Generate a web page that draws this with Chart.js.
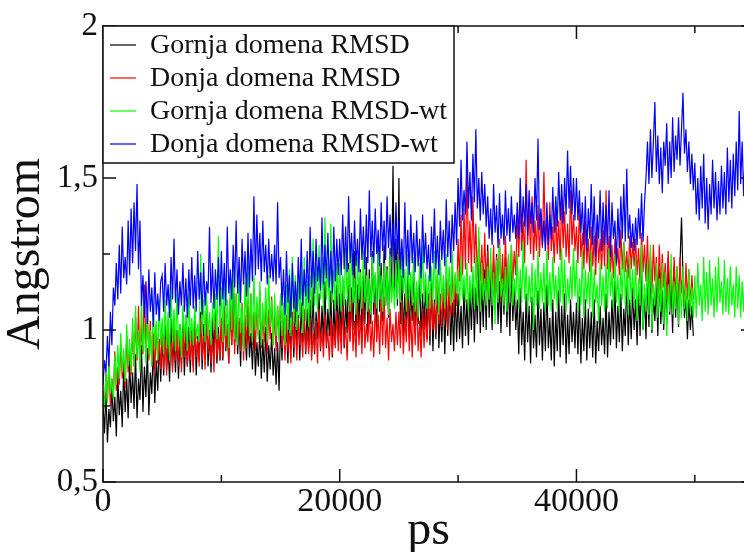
<!DOCTYPE html>
<html>
<head>
<meta charset="utf-8">
<script src="https://cdn.jsdelivr.net/npm/chart.js@4.4.1/dist/chart.umd.min.js"></script>
<style>
  html, body { margin: 0; padding: 0; overflow: hidden; background: #fff; }
  canvas { display: block; }
</style>
</head>
<body>
<canvas id="rmsdChart" width="800" height="552" style="width:800px;height:552px"></canvas>
<script>
// sampling grid of the trajectories (ps between stored frames)
const STEP_PS = 125;

const seriesNames = ['Gornja domena RMSD', 'Donja domena RMSD', 'Gornja domena RMSD-wt', 'Donja domena RMSD-wt'];
const seriesColors = ['#000000', '#ff0000', '#00ff00', '#0000ff'];

const xMajorTicks = [0, 20000, 40000];
const xMinorTicks = [10000, 30000, 50000];
const yMajorTicks = [0.5, 1, 1.5, 2];
const yMinorTicks = [0.75, 1.25, 1.75];

// RMSD values in Angstrom, one every STEP_PS ps (one row = 2500 ps)
const gornja = [
  0.76, 0.66, 0.80, 0.63, 0.74, 0.68, 0.82, 0.70, 0.78, 0.65, 0.85, 0.72, 0.80, 0.68, 0.88, 0.73, 0.84, 0.71, 0.90, 0.76,
  0.86, 0.74, 0.92, 0.71, 0.84, 0.77, 0.95, 0.73, 0.88, 0.78, 0.94, 0.72, 0.86, 0.79, 0.96, 0.76, 0.90, 0.80, 0.97, 0.83,
  0.98, 0.85, 1.02, 0.87, 0.95, 0.83, 1.04, 0.88, 0.97, 0.86, 1.00, 0.84, 0.96, 0.89, 1.03, 0.85, 0.99, 0.88, 1.01, 0.86,
  1.00, 0.88, 1.05, 0.85, 0.98, 0.90, 1.06, 0.87, 1.02, 0.91, 1.08, 0.88, 0.99, 0.86, 1.04, 0.92, 1.07, 0.89, 1.01, 0.90,
  1.04, 0.90, 1.08, 0.93, 1.02, 0.89, 1.10, 0.95, 1.22, 0.96, 1.06, 0.92, 1.03, 0.88, 1.07, 0.94, 1.00, 0.90, 1.05, 0.91,
  0.99, 0.87, 1.02, 0.85, 0.96, 0.88, 1.00, 0.84, 0.97, 0.86, 1.01, 0.83, 0.95, 0.87, 0.99, 0.85, 0.94, 0.82, 0.96, 0.80,
  1.03, 0.90, 1.08, 0.93, 1.01, 0.89, 1.10, 0.94, 1.04, 0.91, 1.12, 0.95, 1.05, 0.90, 1.09, 0.96, 1.03, 0.92, 1.07, 0.94,
  1.10, 0.95, 1.14, 0.92, 1.06, 0.97, 1.12, 0.93, 1.08, 0.96, 1.16, 0.94, 1.07, 0.98, 1.13, 0.91, 1.10, 0.95, 1.15, 0.97,
  1.12, 0.96, 1.17, 0.94, 1.10, 0.99, 1.22, 0.97, 1.14, 1.00, 1.26, 0.98, 1.15, 1.01, 1.20, 0.96, 1.18, 1.02, 1.24, 0.99,
  1.20, 1.02, 1.26, 1.05, 1.18, 1.00, 1.30, 1.06, 1.22, 1.03, 1.28, 1.08, 1.21, 1.04, 1.27, 1.10, 1.54, 1.12, 1.30, 1.08,
  1.50, 1.02, 1.18, 0.98, 1.12, 1.01, 1.20, 0.97, 1.15, 1.03, 1.23, 0.99, 1.14, 1.02, 1.19, 0.98, 1.12, 1.00, 1.17, 0.97,
  1.12, 0.95, 1.16, 0.93, 1.10, 0.97, 1.18, 0.94, 1.08, 0.96, 1.14, 0.92, 1.11, 0.98, 1.15, 0.95, 1.09, 0.93, 1.13, 0.96,
  1.12, 0.97, 1.08, 0.94, 1.15, 0.98, 1.10, 0.95, 1.13, 1.00, 1.18, 0.96, 1.14, 1.02, 1.22, 0.99, 1.16, 1.01, 1.20, 1.00,
  1.28, 1.04, 1.18, 1.00, 1.22, 1.06, 1.25, 1.02, 1.16, 0.99, 1.21, 1.05, 1.24, 1.01, 1.18, 0.98, 1.22, 1.03, 1.14, 1.00,
  1.10, 0.92, 1.14, 0.95, 1.06, 0.90, 1.12, 0.96, 1.08, 0.89, 1.11, 0.94, 1.05, 0.91, 1.13, 0.95, 1.07, 0.90, 1.09, 0.93,
  1.15, 0.94, 1.04, 0.90, 1.10, 0.88, 1.06, 0.93, 1.13, 0.91, 1.08, 0.95, 1.12, 0.89, 1.05, 0.92, 1.10, 0.96, 1.06, 0.94,
  1.09, 0.92, 1.11, 0.89, 1.04, 0.93, 1.10, 0.90, 1.07, 0.94, 1.06, 0.91, 1.10, 0.89, 1.03, 0.93, 1.08, 0.95, 1.04, 0.92,
  1.12, 0.91, 1.06, 0.95, 1.10, 0.97, 1.16, 0.94, 1.08, 0.96, 1.12, 0.93, 1.07, 0.98, 1.18, 0.95, 1.10, 0.97, 1.14, 1.00,
  1.10, 0.95, 1.14, 0.98, 1.20, 1.00, 1.12, 0.97, 1.18, 1.01, 1.22, 0.99, 1.11, 1.03, 1.16, 0.98, 1.20, 1.02, 1.13, 1.00,
  1.17, 1.02, 1.24, 1.05, 1.15, 0.99, 1.21, 1.04, 1.17, 1.01, 1.22, 1.37, 1.18, 1.04, 1.12, 0.97, 1.10, 1.00, 1.08, 0.98
];
const donja = [
  0.80, 0.74, 0.86, 0.77, 0.90, 0.75, 0.84, 0.79, 0.93, 0.80, 0.88, 0.82, 0.95, 0.84, 0.90, 0.81, 0.98, 0.86, 0.94, 0.85,
  1.00, 0.88, 1.04, 0.90, 1.08, 0.87, 1.02, 0.92, 1.15, 0.94, 1.06, 0.90, 1.03, 0.88, 0.99, 0.86, 1.02, 0.89, 0.97, 0.87,
  1.00, 0.87, 0.97, 0.85, 1.03, 0.89, 0.96, 0.86, 1.04, 0.90, 0.98, 0.88, 1.02, 0.86, 0.99, 0.91, 1.05, 0.88, 0.96, 0.90,
  0.99, 0.86, 1.02, 0.91, 0.97, 0.88, 1.04, 0.90, 0.98, 0.87, 1.05, 0.92, 1.00, 0.89, 0.97, 0.86, 1.03, 0.91, 0.99, 0.90,
  1.04, 0.91, 1.08, 0.94, 1.02, 0.89, 1.10, 0.95, 1.06, 0.92, 1.12, 0.97, 1.04, 0.93, 1.09, 0.90, 1.05, 0.94, 1.10, 0.96,
  1.12, 0.95, 1.06, 0.93, 1.09, 0.98, 1.13, 0.94, 1.04, 0.96, 1.10, 0.92, 1.07, 0.97, 1.11, 0.95, 1.05, 0.93, 1.08, 0.97,
  1.10, 0.94, 1.02, 0.90, 1.05, 0.93, 0.99, 0.89, 1.06, 0.94, 1.01, 0.90, 1.04, 0.95, 0.99, 0.91, 1.07, 0.93, 1.00, 0.92,
  1.04, 0.90, 0.99, 0.93, 1.03, 0.89, 1.07, 0.94, 1.00, 0.91, 1.05, 0.95, 0.99, 0.90, 1.04, 0.92, 1.02, 0.94, 1.06, 0.93,
  1.04, 0.92, 1.08, 0.95, 1.01, 0.90, 1.06, 0.96, 1.10, 0.93, 1.03, 0.91, 1.09, 0.95, 1.05, 0.92, 1.11, 0.94, 1.02, 0.96,
  1.07, 0.93, 1.03, 0.91, 1.09, 0.96, 1.05, 0.92, 1.10, 0.95, 1.11, 0.94, 1.04, 0.90, 1.07, 0.96, 1.02, 0.93, 1.06, 0.95,
  1.06, 0.94, 1.10, 0.92, 1.04, 0.96, 1.12, 0.93, 1.05, 0.91, 1.09, 0.95, 1.12, 0.93, 1.03, 0.91, 1.07, 0.94, 1.06, 0.96,
  1.10, 0.98, 1.13, 1.00, 1.09, 0.99, 1.18, 1.02, 1.12, 1.01, 1.15, 1.03, 1.17, 1.00, 1.14, 1.05, 1.21, 1.04, 1.18, 1.08,
  1.30, 1.16, 1.38, 1.18, 1.40, 1.20, 1.56, 1.22, 1.36, 1.19, 1.44, 1.22, 1.35, 1.17, 1.30, 1.16, 1.28, 1.14, 1.32, 1.15,
  1.26, 1.10, 1.22, 1.12, 1.28, 1.08, 1.24, 1.13, 1.30, 1.10, 1.25, 1.12, 1.31, 1.14, 1.24, 1.11, 1.28, 1.16, 1.26, 1.18,
  1.38, 1.24, 1.42, 1.26, 1.36, 1.22, 1.56, 1.28, 1.40, 1.25, 1.44, 1.23, 1.36, 1.26, 1.41, 1.24, 1.38, 1.27, 1.52, 1.28,
  1.38, 1.23, 1.42, 1.26, 1.34, 1.22, 1.40, 1.25, 1.36, 1.23, 1.44, 1.27, 1.39, 1.24, 1.35, 1.22, 1.46, 1.28, 1.38, 1.26,
  1.34, 1.22, 1.40, 1.24, 1.32, 1.20, 1.36, 1.22, 1.30, 1.19, 1.34, 1.21, 1.31, 1.18, 1.35, 1.22, 1.30, 1.20, 1.33, 1.21,
  1.46, 1.20, 1.31, 1.19, 1.28, 1.17, 1.30, 1.21, 1.27, 1.18, 1.33, 1.20, 1.29, 1.19, 1.26, 1.17, 1.31, 1.20, 1.29, 1.21,
  1.30, 1.18, 1.27, 1.15, 1.32, 1.19, 1.28, 1.16, 1.31, 1.14, 1.26, 1.12, 1.28, 1.16, 1.24, 1.10, 1.28, 1.13, 1.25, 1.14,
  1.22, 1.10, 1.26, 1.12, 1.20, 1.08, 1.24, 1.11, 1.21, 1.09, 1.24, 1.12, 1.19, 1.07, 1.22, 1.10, 1.20, 1.08, 1.18, 1.10
];
const gornjaWt = [
  0.80, 0.74, 0.86, 0.76, 0.90, 0.79, 0.84, 0.77, 0.92, 0.82, 0.95, 0.84, 0.99, 0.86, 0.94, 0.83, 1.02, 0.88, 0.97, 0.86,
  1.04, 0.88, 1.08, 0.91, 1.00, 0.86, 1.11, 0.93, 1.02, 0.89, 1.06, 0.92, 1.00, 0.88, 1.09, 0.94, 1.03, 0.90, 1.10, 0.95,
  1.04, 0.92, 1.10, 0.94, 1.06, 0.90, 1.14, 0.96, 1.07, 0.93, 1.12, 0.95, 1.02, 0.91, 1.08, 0.97, 1.05, 0.93, 1.12, 0.96,
  1.04, 0.95, 1.08, 0.97, 1.02, 0.96, 1.25, 0.99, 1.10, 0.96, 1.12, 0.98, 1.06, 0.95, 1.09, 1.00, 1.12, 0.97, 1.31, 1.01,
  1.14, 0.96, 1.20, 0.98, 1.10, 0.94, 1.16, 1.00, 1.22, 0.97, 1.12, 0.95, 1.18, 0.99, 1.08, 0.93, 1.16, 1.01, 1.22, 0.98,
  1.12, 0.96, 1.18, 1.00, 1.11, 0.97, 1.16, 0.95, 1.09, 0.99, 1.14, 0.96, 1.18, 1.01, 1.10, 0.95, 1.12, 0.98, 1.08, 0.96,
  1.12, 0.98, 1.09, 0.95, 1.15, 1.00, 1.20, 0.98, 1.24, 1.02, 1.18, 1.00, 1.15, 1.04, 1.20, 0.99, 1.24, 1.03, 1.16, 1.01,
  1.18, 1.05, 1.30, 1.08, 1.22, 1.06, 1.28, 1.10, 1.24, 1.07, 1.37, 1.10, 1.22, 1.06, 1.35, 1.09, 1.20, 1.07, 1.22, 1.08,
  1.22, 1.06, 1.18, 1.08, 1.27, 1.10, 1.20, 1.06, 1.29, 1.09, 1.17, 1.05, 1.24, 1.10, 1.19, 1.07, 1.26, 1.09, 1.18, 1.06,
  1.17, 1.05, 1.24, 1.09, 1.19, 1.07, 1.26, 1.10, 1.18, 1.06, 1.22, 1.08, 1.20, 1.05, 1.25, 1.09, 1.18, 1.07, 1.23, 1.10,
  1.23, 1.09, 1.27, 1.12, 1.20, 1.06, 1.25, 1.10, 1.19, 1.08, 1.24, 1.06, 1.16, 1.04, 1.22, 1.10, 1.28, 1.09, 1.19, 1.07,
  1.18, 1.07, 1.21, 1.10, 1.26, 1.08, 1.20, 1.05, 1.23, 1.09, 1.18, 1.07, 1.25, 1.11, 1.21, 1.08, 1.26, 1.10, 1.19, 1.12,
  1.20, 1.08, 1.24, 1.10, 1.18, 1.09, 1.22, 1.06, 1.18, 1.09, 1.21, 1.07, 1.24, 1.08, 1.34, 1.06, 1.22, 1.10, 1.17, 1.08,
  1.21, 1.10, 1.27, 1.08, 1.19, 1.02, 1.23, 1.09, 1.28, 1.11, 1.17, 1.08, 1.21, 1.06, 1.25, 1.09, 1.28, 1.08, 1.17, 1.10,
  1.25, 1.07, 1.20, 1.09, 1.29, 1.10, 1.21, 1.06, 1.18, 1.09, 1.22, 1.00, 1.20, 1.08, 1.26, 1.07, 1.19, 1.09, 1.22, 1.06,
  1.26, 1.08, 1.19, 1.06, 1.24, 1.10, 1.18, 1.07, 1.21, 1.09, 1.27, 1.08, 1.23, 1.06, 1.17, 1.09, 1.21, 1.10, 1.27, 1.11,
  1.23, 1.06, 1.17, 1.08, 1.26, 1.04, 1.20, 1.09, 1.19, 1.07, 1.26, 1.04, 1.20, 1.09, 1.15, 1.02, 1.22, 1.08, 1.18, 1.06,
  1.22, 1.07, 1.27, 1.11, 1.19, 1.07, 1.25, 1.09, 1.18, 1.06, 1.21, 1.10, 1.29, 1.08, 1.20, 1.05, 1.24, 1.09, 1.20, 1.07,
  1.24, 1.03, 1.17, 1.08, 1.28, 1.00, 1.15, 1.06, 1.22, 1.05, 1.28, 1.00, 1.15, 1.08, 1.22, 1.04, 1.17, 1.06, 1.22, 1.02,
  1.19, 0.98, 1.15, 1.06, 1.25, 1.05, 1.16, 1.07, 1.21, 1.02, 1.16, 1.04, 1.21, 1.07, 1.14, 1.03, 1.20, 1.06, 1.14, 1.04,
  1.18, 1.04, 1.22, 1.08, 1.15, 1.03, 1.24, 1.06, 1.19, 1.05, 1.23, 1.08, 1.17, 1.04, 1.21, 1.06, 1.24, 1.09, 1.16, 1.05,
  1.23, 1.06, 1.17, 1.05, 1.21, 1.08, 1.15, 1.04, 1.21, 1.07, 1.18, 1.04, 1.16, 1.06, 1.20, 1.08, 1.17, 1.05, 1.20, 1.07
];
const donjaWt = [
  0.82, 0.90, 0.86, 0.98, 0.88, 1.06, 0.95, 1.14, 1.08, 1.22, 1.10, 1.28, 1.12, 1.34, 1.17, 1.24, 1.15, 1.36, 1.18, 1.40,
  1.22, 1.42, 1.26, 1.48, 1.20, 1.36, 1.08, 1.18, 1.04, 1.16, 1.02, 1.20, 1.06, 1.14, 1.01, 1.19, 1.05, 1.12, 1.03, 1.16,
  1.18, 1.06, 1.22, 1.08, 1.15, 1.04, 1.24, 1.10, 1.30, 1.09, 1.20, 1.05, 1.16, 1.08, 1.22, 1.06, 1.17, 1.04, 1.20, 1.08,
  1.24, 1.07, 1.18, 1.06, 1.26, 1.10, 1.19, 1.05, 1.22, 1.08, 1.16, 1.12, 1.34, 1.09, 1.22, 1.07, 1.20, 1.10, 1.24, 1.08,
  1.26, 1.10, 1.22, 1.08, 1.34, 1.12, 1.20, 1.10, 1.28, 1.14, 1.36, 1.12, 1.24, 1.09, 1.30, 1.15, 1.26, 1.11, 1.32, 1.14,
  1.30, 1.16, 1.44, 1.18, 1.38, 1.20, 1.32, 1.16, 1.36, 1.19, 1.28, 1.15, 1.30, 1.17, 1.25, 1.16, 1.28, 1.15, 1.42, 1.17,
  1.24, 1.08, 1.20, 1.05, 1.26, 1.09, 1.18, 1.04, 1.22, 1.07, 1.16, 1.06, 1.24, 1.10, 1.30, 1.08, 1.20, 1.11, 1.26, 1.09,
  1.34, 1.14, 1.26, 1.12, 1.30, 1.16, 1.24, 1.13, 1.37, 1.15, 1.28, 1.17, 1.32, 1.14, 1.26, 1.12, 1.34, 1.16, 1.30, 1.18,
  1.30, 1.18, 1.38, 1.20, 1.34, 1.19, 1.44, 1.22, 1.32, 1.18, 1.36, 1.21, 1.30, 1.19, 1.40, 1.23, 1.34, 1.20, 1.38, 1.22,
  1.46, 1.24, 1.36, 1.22, 1.40, 1.25, 1.33, 1.21, 1.42, 1.26, 1.36, 1.23, 1.44, 1.27, 1.38, 1.24, 1.35, 1.22, 1.42, 1.25,
  1.36, 1.20, 1.30, 1.17, 1.42, 1.21, 1.33, 1.18, 1.38, 1.22, 1.32, 1.19, 1.36, 1.21, 1.30, 1.17, 1.38, 1.22, 1.32, 1.20,
  1.28, 1.16, 1.34, 1.22, 1.40, 1.20, 1.31, 1.18, 1.36, 1.23, 1.33, 1.21, 1.43, 1.24, 1.36, 1.22, 1.38, 1.26, 1.42, 1.28,
  1.50, 1.34, 1.56, 1.36, 1.46, 1.38, 1.62, 1.40, 1.52, 1.36, 1.58, 1.42, 1.66, 1.40, 1.50, 1.36, 1.52, 1.38, 1.48, 1.34,
  1.44, 1.30, 1.40, 1.28, 1.48, 1.32, 1.41, 1.27, 1.45, 1.30, 1.38, 1.28, 1.46, 1.31, 1.40, 1.29, 1.44, 1.32, 1.38, 1.30,
  1.42, 1.30, 1.50, 1.32, 1.44, 1.34, 1.48, 1.31, 1.46, 1.35, 1.42, 1.32, 1.50, 1.36, 1.63, 1.33, 1.40, 1.28, 1.36, 1.26,
  1.42, 1.28, 1.38, 1.30, 1.47, 1.32, 1.44, 1.34, 1.52, 1.36, 1.48, 1.35, 1.50, 1.38, 1.59, 1.40, 1.54, 1.38, 1.50, 1.36,
  1.50, 1.36, 1.46, 1.32, 1.42, 1.28, 1.44, 1.26, 1.40, 1.30, 1.48, 1.28, 1.44, 1.24, 1.38, 1.30, 1.46, 1.26, 1.42, 1.28,
  1.41, 1.28, 1.46, 1.24, 1.42, 1.30, 1.36, 1.22, 1.40, 1.27, 1.44, 1.30, 1.48, 1.29, 1.53, 1.30, 1.38, 1.27, 1.35, 1.26,
  1.37, 1.28, 1.40, 1.30, 1.45, 1.29, 1.42, 1.50, 1.62, 1.48, 1.66, 1.50, 1.62, 1.75, 1.52, 1.64, 1.48, 1.60, 1.45, 1.62,
  1.54, 1.68, 1.48, 1.62, 1.50, 1.70, 1.52, 1.64, 1.56, 1.70, 1.54, 1.66, 1.78, 1.58, 1.66, 1.52, 1.62, 1.48, 1.58, 1.46,
  1.55, 1.38, 1.50, 1.36, 1.54, 1.40, 1.58, 1.35, 1.50, 1.33, 1.48, 1.38, 1.56, 1.40, 1.52, 1.36, 1.49, 1.38, 1.54, 1.40,
  1.52, 1.38, 1.60, 1.42, 1.56, 1.40, 1.58, 1.44, 1.62, 1.46, 1.72, 1.48, 1.62, 1.44, 1.58, 1.40, 1.56, 1.42, 1.60, 1.45
];

const SERIF = '"Liberation Serif", "Times New Roman", serif';
const toPoints = (vals) => vals.map((v, i) => ({ x: i * STEP_PS, y: v }));

// xmgrace style frame: ticks pointing inwards on all four sides, boxed legend
const gracePlugin = {
  id: 'grace',
  afterDatasetsDraw(chart) {
    const { ctx, chartArea: a, scales: { x, y } } = chart;
    ctx.save();
    ctx.strokeStyle = '#111';
    ctx.lineWidth = 1.5;
    ctx.strokeRect(a.left, a.top, a.right - a.left, a.bottom - a.top);
    ctx.beginPath();
    const xt = (v, len) => {
      const px = x.getPixelForValue(v);
      ctx.moveTo(px, a.bottom); ctx.lineTo(px, a.bottom - len);
      ctx.moveTo(px, a.top); ctx.lineTo(px, a.top + len);
    };
    const yt = (v, len) => {
      const py = y.getPixelForValue(v);
      ctx.moveTo(a.left, py); ctx.lineTo(a.left + len, py);
      ctx.moveTo(a.right, py); ctx.lineTo(a.right - len, py);
    };
    xMajorTicks.forEach((v) => xt(v, 13));
    xMinorTicks.forEach((v) => xt(v, 7));
    yMajorTicks.forEach((v) => yt(v, 13));
    yMinorTicks.forEach((v) => yt(v, 7));
    ctx.stroke();

    const bx = a.left, by = a.top, bw = 351, bh = 137;
    ctx.fillStyle = '#fff';
    ctx.fillRect(bx, by, bw, bh);
    ctx.strokeRect(bx, by, bw, bh);
    ctx.font = '28px ' + SERIF;
    ctx.textBaseline = 'alphabetic';
    ctx.textAlign = 'left';
    seriesNames.forEach((name, i) => {
      const rowY = by + 19 + i * 33;
      ctx.strokeStyle = seriesColors[i];
      ctx.lineWidth = 1.2;
      ctx.beginPath();
      ctx.moveTo(bx + 7, rowY); ctx.lineTo(bx + 33, rowY);
      ctx.stroke();
      ctx.fillStyle = '#111';
      ctx.fillText(name, bx + 47, rowY + 8);
    });
    ctx.restore();
  }
};

const seriesData = [gornja, donja, gornjaWt, donjaWt];

new Chart(document.getElementById('rmsdChart'), {
  type: 'line',
  data: {
    datasets: seriesData.map((vals, i) => ({
      label: seriesNames[i],
      data: toPoints(vals),
      borderColor: seriesColors[i],
      borderWidth: 1.2,
      pointRadius: 0,
      tension: 0,
      order: seriesData.length - 1 - i
    }))
  },
  options: {
    responsive: false,
    animation: false,
    layout: { padding: { top: 26, right: 46, left: 0, bottom: 0 } },
    plugins: { legend: { display: false }, tooltip: { enabled: false } },
    scales: {
      x: {
        type: 'linear',
        min: 0,
        max: 55000,
        afterFit: (s) => { s.height = 70; },
        afterBuildTicks: (s) => { s.ticks = xMajorTicks.map((v) => ({ value: v })); },
        grid: { display: false, drawTicks: false },
        border: { display: false },
        ticks: { padding: 3, color: '#111', maxRotation: 0, autoSkip: false,
          font: { family: SERIF, size: 34, lineHeight: 1 },
          callback: (v) => String(v) },
        title: { display: true, text: 'ps', color: '#111', padding: { top: 0, bottom: -3 },
          font: { family: SERIF, size: 48, lineHeight: 1 } }
      },
      y: {
        min: 0.5,
        max: 2,
        afterFit: (s) => { s.width = 103; },
        afterBuildTicks: (s) => { s.ticks = yMajorTicks.map((v) => ({ value: v })); },
        grid: { display: false, drawTicks: false },
        border: { display: false },
        ticks: { padding: 5, color: '#111', autoSkip: false,
          font: { family: SERIF, size: 33, lineHeight: 1 },
          callback: (v) => String(v).replace('.', ',') },
        title: { display: true, text: 'Angstrom', color: '#111', padding: { top: 2 },
          font: { family: SERIF, size: 48, lineHeight: 1 } }
      }
    }
  },
  plugins: [gracePlugin]
});
</script>
</body>
</html>
